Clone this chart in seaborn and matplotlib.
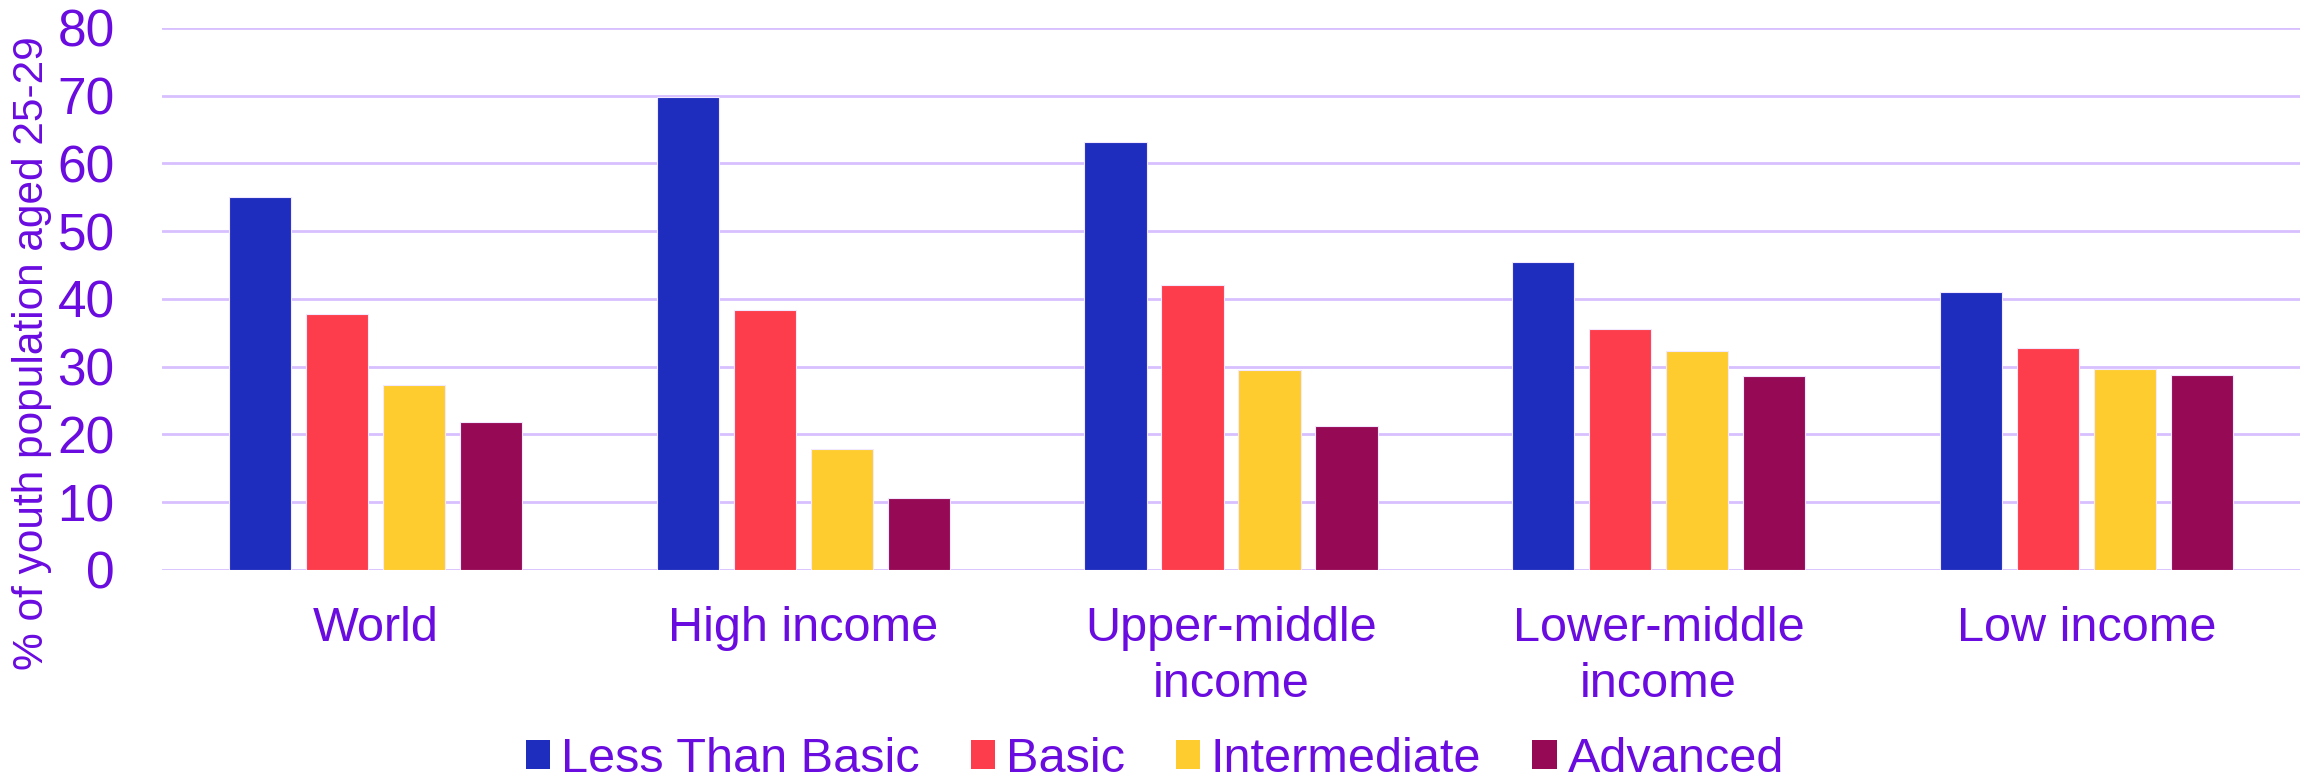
import matplotlib
matplotlib.use("Agg")
import matplotlib.pyplot as plt
import seaborn as sns
import pandas as pd

categories = ["World", "High income", "Upper-middle\nincome", "Lower-middle\nincome", "Low income"]
levels = ["Less Than Basic", "Basic", "Intermediate", "Advanced"]
less_than_basic = [55.0, 69.8, 63.1, 45.4, 41.1]
basic = [37.8, 38.4, 42.1, 35.6, 32.7]
intermediate = [27.3, 17.8, 29.5, 32.3, 29.6]
advanced = [21.9, 10.6, 21.3, 28.7, 28.8]
yticks = [0, 10, 20, 30, 40, 50, 60, 70, 80]
ylabel = "% of youth population aged 25-29"

colors = ["#1F2DBE", "#FD3D4B", "#FFCC2F", "#960A55"]
text_color = "#6A0BE0"
grid_color = "#D8C0FF"

rows = []
for lev, vals in zip(levels, [less_than_basic, basic, intermediate, advanced]):
    for c, v in zip(categories, vals):
        rows.append({"category": c, "level": lev, "value": v})
df = pd.DataFrame(rows)

sns.set_theme(style="white")
plt.rcParams["font.family"] = ["Liberation Sans", "DejaVu Sans"]

fig = plt.figure(figsize=(23.1, 7.79), dpi=100)
ax = fig.add_axes([0.0701, 0.2683, 0.9256, 0.6958])

sns.barplot(data=df, x="category", y="value", hue="level", order=categories,
            hue_order=levels, palette=colors, saturation=1, width=0.72, gap=0.19,
            edgecolor="#F2E8FF", linewidth=0.8, ax=ax, legend=True, zorder=3)

ax.set_ylim(0, 80)
ax.set_yticks(yticks)
ax.set_yticklabels([str(t) for t in yticks])
ax.set_xlim(-0.5, len(categories) - 0.5)
ax.yaxis.grid(True, color=grid_color, linewidth=2.0, zorder=0)
ax.set_axisbelow(True)
for s in ax.spines.values():
    s.set_visible(False)
ax.tick_params(axis="y", length=0, pad=34, labelsize=37, labelcolor=text_color)
ax.tick_params(axis="x", length=0, pad=26, labelsize=35, labelcolor=text_color)
for lbl in ax.get_xticklabels():
    lbl.set_linespacing(1.32)
ax.set_xlabel("")
ax.set_ylabel(ylabel, fontsize=30.5, color=text_color)
ax.yaxis.set_label_coords(-0.0515, 0.40)

handles, labels = ax.get_legend_handles_labels()
ax.get_legend().remove()
leg = fig.legend(handles, labels, loc="center", bbox_to_anchor=(0.5, 0.025),
                 ncol=4, frameon=False, fontsize=35, handlelength=0.5, handleheight=0.53,
                 handletextpad=0.22, columnspacing=1.05, labelcolor=text_color,
                 borderpad=0, borderaxespad=0)
for h in leg.legend_handles:
    h.set_edgecolor("none")

fig.savefig("out.png", dpi=100)
